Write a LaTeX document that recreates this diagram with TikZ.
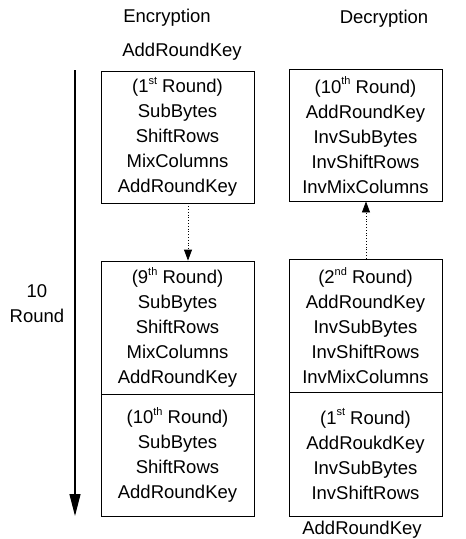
\documentclass[tikz,border=0pt]{standalone}
\usepackage{fontspec}
\setmainfont{Liberation Sans}
\usetikzlibrary{arrows.meta,calc}
\newcommand{\sups}[1]{\raisebox{0.45em}{\fontsize{11}{11}\selectfont #1}}
\begin{document}
\begin{tikzpicture}[x=1pt,y=-1pt,
  txt/.style={font=\fontsize{18.5}{25}\selectfont, inner sep=0pt, align=center},
  roundbox/.style={draw, line width=0.8pt, minimum width=153pt, inner sep=0pt, font=\fontsize{18.5}{25}\selectfont, align=center},
  dotarrow/.style={dotted, line width=0.8pt, -{Triangle[length=11pt,width=8pt]}},
  bigarrow/.style={line width=1.2pt, -{Triangle[length=22pt,width=11pt]}}]
\useasboundingbox (0,0) rectangle (466,539);
% labels
\node[txt] (enc) at (167,18) {Encryption};
\node[txt] (dec) at (384,19) {Decryption};
\node[txt] (ark1) at (182,52) {AddRoundKey};
\node[txt] (ark2) at (362,530) {AddRoundKey};
\node[txt] (ten) at (37,304) {10\\Round};
% encryption boxes
\node[roundbox, minimum height=132pt] (e1) at (177.5,137) {(1\sups{st} Round)\\SubBytes\\ShiftRows\\MixColumns\\AddRoundKey};
\node[roundbox, minimum height=133pt] (e9) at (177.5,327.5) {(9\sups{th} Round)\\SubBytes\\ShiftRows\\MixColumns\\AddRoundKey};
\node[roundbox, minimum height=122pt] (e10) at (177.5,455) {(10\sups{th} Round)\\SubBytes\\ShiftRows\\AddRoundKey};
% decryption boxes
\node[roundbox, minimum height=132pt] (d10) at (365.5,135) {(10\sups{th} Round)\\AddRoundKey\\InvSubBytes\\InvShiftRows\\InvMixColumns};
\node[roundbox, minimum height=133pt] (d2) at (365.5,325.5) {(2\sups{nd} Round)\\AddRoundKey\\InvSubBytes\\InvShiftRows\\InvMixColumns};
\node[roundbox, minimum height=124pt] (d1) at (365.5,454) {(1\sups{st} Round)\\AddRoukdKey\\InvSubBytes\\InvShiftRows};
% arrows
\coordinate (top) at (75,70);
\coordinate (bot) at (75,516);
\draw[bigarrow] (top) -- (bot);
\coordinate (dl) at (188,0);
\coordinate (dr) at (366,0);
\draw[dotarrow] (e1.south -| dl) -- (e9.north -| dl);
\draw[dotarrow] (d2.north -| dr) -- (d10.south -| dr);
\end{tikzpicture}
\end{document}
